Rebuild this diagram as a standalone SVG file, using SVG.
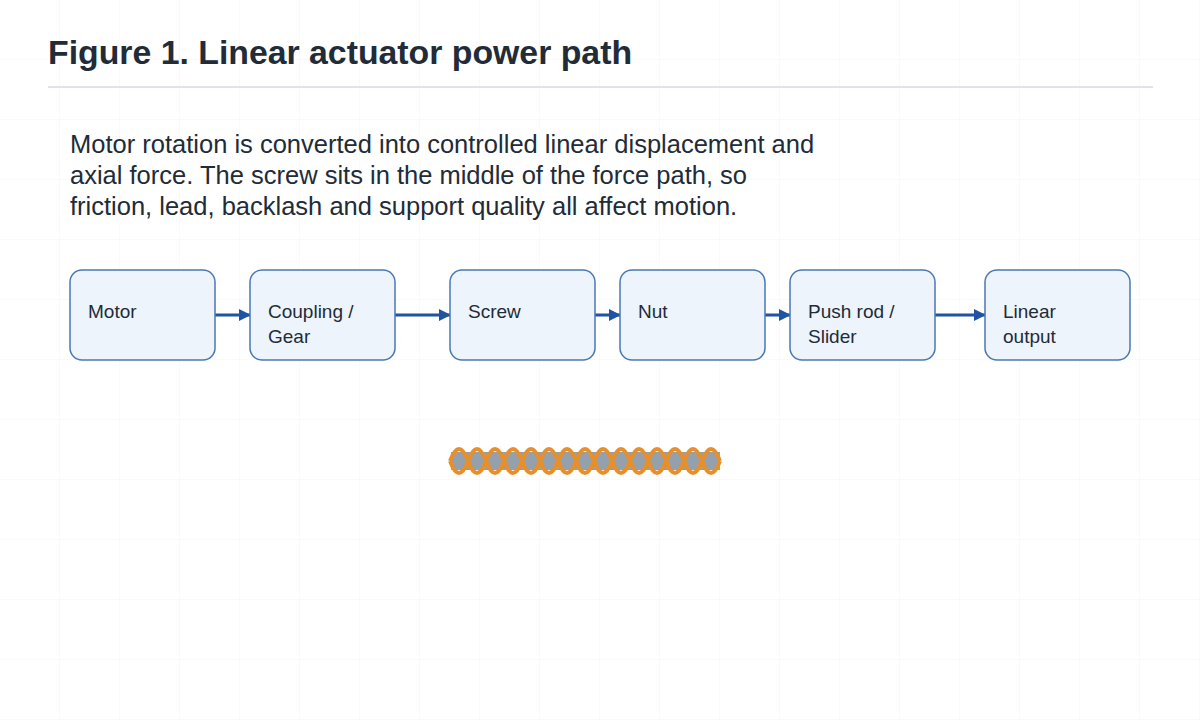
<svg xmlns="http://www.w3.org/2000/svg" width="1200" height="720" viewBox="0 0 1200 720">
<defs>
<pattern id="grid" width="60" height="60" patternUnits="userSpaceOnUse"><path d="M60 0V60H0" fill="none" stroke="#f3f5f8" stroke-width="1"/></pattern>
<marker id="ah" markerWidth="12" markerHeight="12" refX="11" refY="6" orient="auto" markerUnits="userSpaceOnUse"><path d="M0 0L12 6L0 12Z" fill="#1f55a0"/></marker>
</defs>
<style>
.n rect{fill:#edf4fc;stroke:#4a78b4;stroke-width:1.5}
.n text{font-family:"Liberation Sans",Arial,sans-serif;font-size:19px;fill:#222b38}
.c line{stroke:#1f55a0;stroke-width:3;marker-end:url(#ah)}
</style>
<rect width="1200" height="720" fill="#fff"/>
<rect width="1200" height="720" fill="url(#grid)"/>
<text x="48" y="64" font-family="Liberation Sans,Arial,sans-serif" font-size="33.8" font-weight="bold" fill="#222b38">Figure 1. Linear actuator power path</text>
<line x1="48" y1="87" x2="1153" y2="87" stroke="#dfe2ec" stroke-width="2"/>
<g font-family="Liberation Sans,Arial,sans-serif" font-size="25.5" fill="#222b38">
<text x="70" y="153">Motor rotation is converted into controlled linear displacement and</text>
<text x="70" y="184">axial force. The screw sits in the middle of the force path, so</text>
<text x="70" y="215">friction, lead, backlash and support quality all affect motion.</text>
</g>
<g class="c">
<line x1="215" y1="315" x2="250" y2="315"/>
<line x1="395" y1="315" x2="450" y2="315"/>
<line x1="595" y1="315" x2="620" y2="315"/>
<line x1="765" y1="315" x2="790" y2="315"/>
<line x1="935" y1="315" x2="985" y2="315"/>
</g>
<g id="motor" class="n"><rect x="70" y="270" width="145" height="90" rx="12"/><text x="88" y="318">Motor</text></g>
<g id="coupling" class="n"><rect x="250" y="270" width="145" height="90" rx="12"/><text x="268" y="318">Coupling /</text><text x="268" y="343">Gear</text></g>
<g id="screw" class="n"><rect x="450" y="270" width="145" height="90" rx="12"/><text x="468" y="318">Screw</text></g>
<g id="nut" class="n"><rect x="620" y="270" width="145" height="90" rx="12"/><text x="638" y="318">Nut</text></g>
<g id="pushrod" class="n"><rect x="790" y="270" width="145" height="90" rx="12"/><text x="808" y="318">Push rod /</text><text x="808" y="343">Slider</text></g>
<g id="output" class="n"><rect x="985" y="270" width="145" height="90" rx="12"/><text x="1003" y="318">Linear</text><text x="1003" y="343">output</text></g>
<g id="screwgraphic">
<rect x="451" y="452" width="269" height="18" fill="#94a0ac"/>
<path d="M450 461 q9 -24 18 0 t18 0 t18 0 t18 0 t18 0 t18 0 t18 0 t18 0 t18 0 t18 0 t18 0 t18 0 t18 0 t18 0 t18 0" fill="none" stroke="#e88f2a" stroke-width="4"/>
<path d="M450 461 q9 24 18 0 t18 0 t18 0 t18 0 t18 0 t18 0 t18 0 t18 0 t18 0 t18 0 t18 0 t18 0 t18 0 t18 0 t18 0" fill="none" stroke="#e88f2a" stroke-width="4"/>
</g>
</svg>
